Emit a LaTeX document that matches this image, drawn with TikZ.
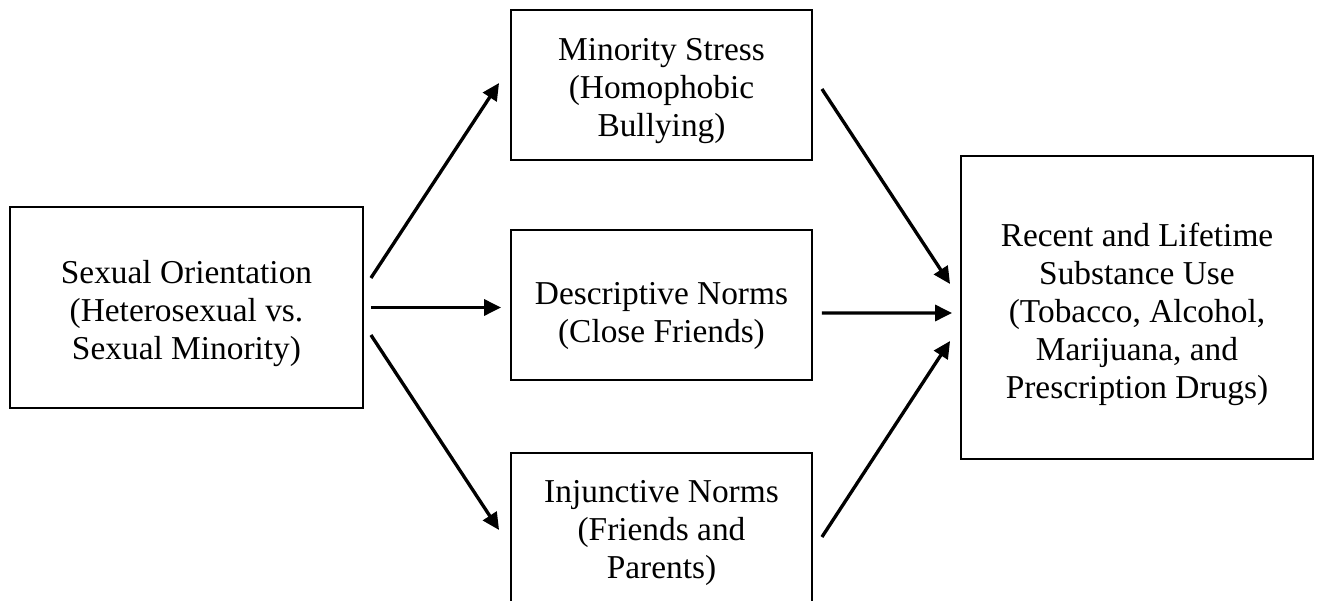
\documentclass[tikz,border=0pt]{standalone}
\usepackage{fontspec}
\setmainfont{Liberation Serif}
\usetikzlibrary{arrows.meta,positioning}

\begin{document}
\begin{tikzpicture}[
    x=0.02cm, y=-0.02cm,
    frame/.style={draw=black, line width=1.1pt, fill=white, inner sep=0pt},
    txt/.style={align=center, inner sep=0pt, font=\fontsize{19}{21.6}\selectfont},
    arr/.style={line width=1.9pt, -{Triangle[length=0.34cm, width=0.32cm]}}
]

% Page frame
\useasboundingbox (0,0) rectangle (1320,601);
\clip (0,0) rectangle (1320,601);

% Predictor
\node[frame, minimum width=7.06cm, minimum height=4.02cm] (orient) at (186.5,307.5) {};
\node[txt] (orient-txt) at ([yshift=-0.12cm]orient.center)
    {Sexual Orientation\\(Heterosexual vs.\\Sexual Minority)};

% Mediators
\node[frame, minimum width=6.02cm, minimum height=3cm] (stress) at (661.5,85) {};
\node[txt] (stress-txt) at ([yshift=-0.12cm]stress.center)
    {Minority Stress\\(Homophobic\\Bullying)};

\node[frame, minimum width=6.02cm, minimum height=3cm] (desc) at (661.5,305) {};
\node[txt] (desc-txt) at ([yshift=-0.22cm]desc.center)
    {Descriptive Norms\\(Close Friends)};

\node[frame, minimum width=6.02cm, minimum height=3cm] (inj) at (661.5,528) {};
\node[txt] (inj-txt) at ([yshift=-0.1cm]inj.center)
    {Injunctive Norms\\(Friends and\\Parents)};

% Outcome
\node[frame, minimum width=7.04cm, minimum height=6.06cm] (use) at (1137,307.5) {};
\node[txt] (use-txt) at ([yshift=-0.14cm]use.center)
    {Recent and Lifetime\\Substance Use\\(Tobacco, Alcohol,\\Marijuana, and\\Prescription Drugs)};

% Paths
\draw[arr] ([shift={(7,-29.5)}]orient.east) -- ([shift={(-11,-2)}]stress.west);
\draw[arr] ([shift={(7,0)}]orient.east) -- ([shift={(-9,2.5)}]desc.west);
\draw[arr] ([shift={(7,27.5)}]orient.east) -- ([shift={(-11,2)}]inj.west);

\draw[arr] ([shift={(9,4)}]stress.east) -- ([shift={(-10,-23.5)}]use.west);
\draw[arr] ([shift={(9,8)}]desc.east) -- ([shift={(-8,5.5)}]use.west);
\draw[arr] ([shift={(9,9)}]inj.east) -- ([shift={(-10,33.5)}]use.west);

\end{tikzpicture}
\end{document}
